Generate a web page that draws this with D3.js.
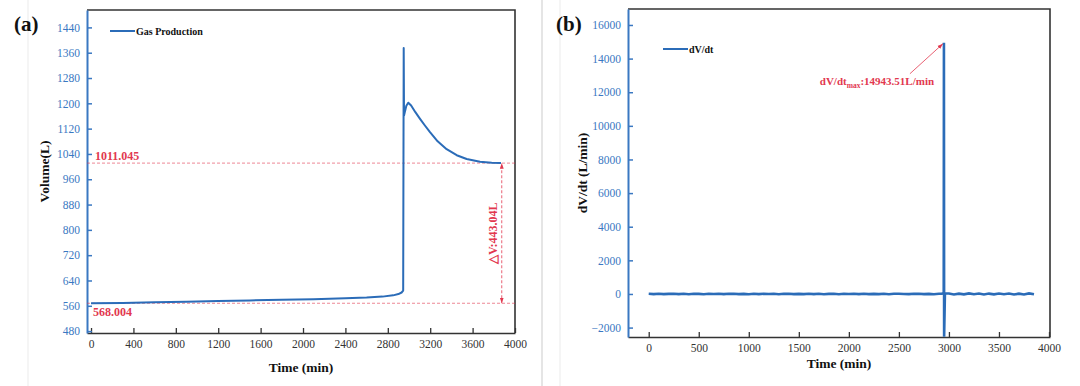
<!DOCTYPE html>
<meta charset="utf-8" />
<style>
  body { margin: 0; background: #fff; }
  text { font-family: "Liberation Serif", "Times New Roman", serif; }
</style>
<svg width="1080" height="386"></svg>
<script src="https://d3js.org/d3.v7.min.js"></script>
<script>
  // panel (a) gas production
  var gasTime = [0, 300, 600, 900, 1200, 1500, 1800, 2100, 2400, 2600, 2750, 2850, 2900, 2930, 2945,
    2950, 2953, 2960, 2975, 2993, 3020, 3060, 3104, 3150, 3198, 3270, 3355, 3450, 3544, 3670, 3780, 3868];
  var gasVolume = [568, 569, 571, 573, 575, 577, 579, 581, 584, 586, 589, 593, 597, 602, 608,
    1375, 1161, 1172, 1192, 1202, 1193, 1172, 1151, 1130, 1109, 1080, 1055, 1036, 1024, 1015, 1012, 1011.045];
  var volTicks = [480, 560, 640, 720, 800, 880, 960, 1040, 1120, 1200, 1280, 1360, 1440];
  var timeTicksA = [0, 400, 800, 1200, 1600, 2000, 2400, 2800, 3200, 3600, 4000];
  var volStart = 568.004, volEnd = 1011.045, deltaTime = 3875;

  // panel (b) dV/dt, noise sampled every 50 min
  var noiseStep = 50;
  var dvdtBefore = [10, -8, 14, -12, 6, 15, -10, 8, -14, 12, 4, -15, 10, -6, 14, -12, 8, 16, -10, 6,
    -14, 12, -8, 15, -4, 10, -16, 8, 14, -10, 6, -12, 15, -8, 10, -14, 4, 12, -15, 8, -6, 14, -10, 16,
    -12, 6, -8, 12, -14, 10, 15, -6, -12, 8, 14, -10, 6, -15, 12];
  var spikeTime = [2930, 2948, 2950, 2952, 2960];
  var spikeValue = [15, 60, 14943.51, -2540, 25];
  var afterStart = 3000;
  var dvdtAfter = [25, -30, 20, -25, 35, -18, 28, -32, 22, -26, 30, -20, 24, -34, 18, -28, 32, -22];
  var rateTicks = [-2000, 0, 2000, 4000, 6000, 8000, 10000, 12000, 14000, 16000];
  var timeTicksB = [0, 500, 1000, 1500, 2000, 2500, 3000, 3500, 4000];
  var rateMaxTime = 2950, rateMax = 14943.51;

  var blue = "#2b6cb8", axisBlue = "#3a78c2", red = "#e2384f", frame = "#333";
  var serif = "Liberation Serif, Times New Roman, serif";

  var svg = d3.select("svg");
  svg.append("rect").attr("width", 1080).attr("height", 386).attr("fill", "#fff");

  // faint page edges
  [28, 542, 560].forEach(function(x, i) {
    svg.append("line").attr("x1", x).attr("x2", x).attr("y1", 0).attr("y2", 386)
      .attr("stroke", i == 1 ? "#d4d4d4" : "#eeeeee").attr("stroke-width", 1.2);
  });

  function panel(opt) {
    var g = svg.append("g");
    var x = d3.scaleLinear().domain(opt.xDomain).range([opt.left, opt.right]);
    var y = d3.scaleLinear().domain(opt.yDomain).range([opt.bottom, opt.top]);

    g.append("clipPath").attr("id", opt.id + "clip").append("rect")
      .attr("x", opt.left).attr("y", opt.top)
      .attr("width", opt.right - opt.left).attr("height", opt.bottom - opt.top);

    // frame top and right
    g.append("path")
      .attr("d", "M" + opt.left + "," + opt.top + "H" + opt.right + "V" + opt.bottom)
      .attr("fill", "none").attr("stroke", frame).attr("stroke-width", 1.6);

    // bottom axis, inward ticks
    var xa = g.append("g").attr("transform", "translate(0," + opt.bottom + ")")
      .call(d3.axisBottom(x).tickValues(opt.xTicks).tickFormat(d3.format("d"))
        .tickSizeInner(-5).tickSizeOuter(0).tickPadding(7));
    xa.attr("font-family", serif);
    xa.select(".domain").attr("stroke", frame).attr("stroke-width", 1.6);
    xa.selectAll(".tick line").attr("stroke", frame).attr("stroke-width", 1.3);
    xa.selectAll("text").attr("font-size", 11.5).attr("fill", "#333").style("font-family", serif);

    // left axis, blue
    var ya = g.append("g").attr("transform", "translate(" + opt.left + ",0)")
      .call(d3.axisLeft(y).tickValues(opt.yTicks).tickFormat(d3.format("d"))
        .tickSizeInner(-5).tickSizeOuter(0).tickPadding(7));
    ya.attr("font-family", serif);
    ya.select(".domain").attr("stroke", axisBlue).attr("stroke-width", 2);
    ya.selectAll(".tick line").attr("stroke", axisBlue).attr("stroke-width", 1.5);
    ya.selectAll("text").attr("font-size", 11.5).attr("fill", axisBlue).style("font-family", serif);

    g.append("text").text(opt.xTitle)
      .attr("x", (opt.left + opt.right) / 2).attr("y", opt.xTitleY)
      .attr("text-anchor", "middle").attr("font-weight", "bold").attr("font-size", 13.5).attr("fill", "#111");
    g.append("text").text(opt.yTitle)
      .attr("transform", "translate(" + opt.yTitleX + "," + (opt.top + opt.bottom) / 2 + ") rotate(-90)")
      .attr("text-anchor", "middle").attr("font-weight", "bold").attr("font-size", 13.5).attr("fill", "#111");

    g.append("text").text(opt.label)
      .attr("x", opt.labelX).attr("y", 31)
      .attr("font-weight", "bold").attr("font-size", 21).attr("fill", "#111");

    // legend
    g.append("line").attr("x1", opt.legendX).attr("x2", opt.legendX + 25)
      .attr("y1", opt.legendY).attr("y2", opt.legendY)
      .attr("stroke", blue).attr("stroke-width", 2);
    g.append("text").text(opt.legend)
      .attr("x", opt.legendX + 26).attr("y", opt.legendY + 3.5)
      .attr("font-weight", "bold").attr("font-size", 10).attr("fill", "#111");

    return { g: g, x: x, y: y, plot: g.append("g").attr("clip-path", "url(#" + opt.id + "clip)") };
  }

  // ---------- (a) ----------
  var a = panel({
    id: "a", left: 87, right: 515, top: 10, bottom: 333,
    xDomain: [-38, 4000], yDomain: [474, 1495],
    xTicks: timeTicksA, yTicks: volTicks,
    xTitle: "Time (min)", xTitleY: 372, yTitle: "Volume(L)", yTitleX: 49,
    label: "(a)", labelX: 14, legend: "Gas Production", legendX: 110, legendY: 31
  });

  var marker = svg.append("defs");
  marker.append("marker").attr("id", "arr").attr("viewBox", "0 0 10 10")
    .attr("refX", 10).attr("refY", 5).attr("markerWidth", 7).attr("markerHeight", 7)
    .attr("orient", "auto-start-reverse")
    .append("path").attr("d", "M0,1.5L10,5L0,8.5Z").attr("fill", red);

  [volEnd, volStart].forEach(function(v) {
    a.plot.append("line")
      .attr("x1", a.x.range()[0]).attr("x2", a.x.range()[1])
      .attr("y1", a.y(v)).attr("y2", a.y(v))
      .attr("stroke", red).attr("stroke-width", 0.8).attr("stroke-dasharray", "3,2").attr("opacity", 0.75);
  });

  a.plot.append("path")
    .datum(gasTime.map(function(t, i) { return [t, gasVolume[i]]; }))
    .attr("d", d3.line().x(function(d) { return a.x(d[0]); }).y(function(d) { return a.y(d[1]); }))
    .attr("fill", "none").attr("stroke", blue).attr("stroke-width", 2).attr("stroke-linejoin", "round");

  a.g.append("line")
    .attr("x1", a.x(deltaTime)).attr("x2", a.x(deltaTime))
    .attr("y1", a.y(volStart)).attr("y2", a.y(volEnd))
    .attr("stroke", red).attr("stroke-width", 0.8).attr("stroke-dasharray", "3,2")
    .attr("marker-start", "url(#arr)").attr("marker-end", "url(#arr)");

  a.g.append("text").text("1011.045")
    .attr("x", 95).attr("y", a.y(volEnd) - 3)
    .attr("font-weight", "bold").attr("font-size", 12).attr("fill", red);
  a.g.append("text").text("568.004")
    .attr("x", 93).attr("y", a.y(volStart) + 13)
    .attr("font-weight", "bold").attr("font-size", 12).attr("fill", red);
  a.g.append("text").text("\u25B3V:443.04L")
    .attr("transform", "translate(" + (a.x(deltaTime) - 5) + "," + (a.y(volStart) + a.y(volEnd)) / 2 + ") rotate(-90)")
    .attr("text-anchor", "middle").attr("font-weight", "bold").attr("font-size", 12).attr("fill", red);

  // ---------- (b) ----------
  var b = panel({
    id: "b", left: 628, right: 1050, top: 9, bottom: 337,
    xDomain: [-207, 4010], yDomain: [-2560, 16950],
    xTicks: timeTicksB, yTicks: rateTicks,
    xTitle: "Time (min)", xTitleY: 368, yTitle: "dV/dt (L/min)", yTitleX: 587,
    label: "(b)", labelX: 556, legend: "dV/dt", legendX: 663, legendY: 49
  });

  var rate = [];
  dvdtBefore.forEach(function(v, i) { rate.push([i * noiseStep, v]); });
  spikeTime.forEach(function(t, i) { rate.push([t, spikeValue[i]]); });
  dvdtAfter.forEach(function(v, i) { rate.push([afterStart + i * noiseStep, v]); });

  b.plot.append("path")
    .datum(rate)
    .attr("d", d3.line().x(function(d) { return b.x(d[0]); }).y(function(d) { return b.y(d[1]); }))
    .attr("fill", "none").attr("stroke", blue).attr("stroke-width", 2.6);

  var tipX = b.x(rateMaxTime), tipY = b.y(rateMax);
  b.g.append("line")
    .attr("x1", tipX - 34).attr("y1", tipY + 31).attr("x2", tipX - 1).attr("y2", tipY + 1)
    .attr("stroke", red).attr("stroke-width", 0.8).attr("marker-end", "url(#arr)");

  var note = b.g.append("text")
    .attr("x", tipX - 67).attr("y", tipY + 42)
    .attr("text-anchor", "middle").attr("font-weight", "bold").attr("font-size", 11).attr("fill", red);
  note.append("tspan").text("dV/dt");
  note.append("tspan").text("max").attr("font-size", 7.5).attr("dy", 3);
  note.append("tspan").text(":14943.51L/min").attr("dy", -3);
</script>
